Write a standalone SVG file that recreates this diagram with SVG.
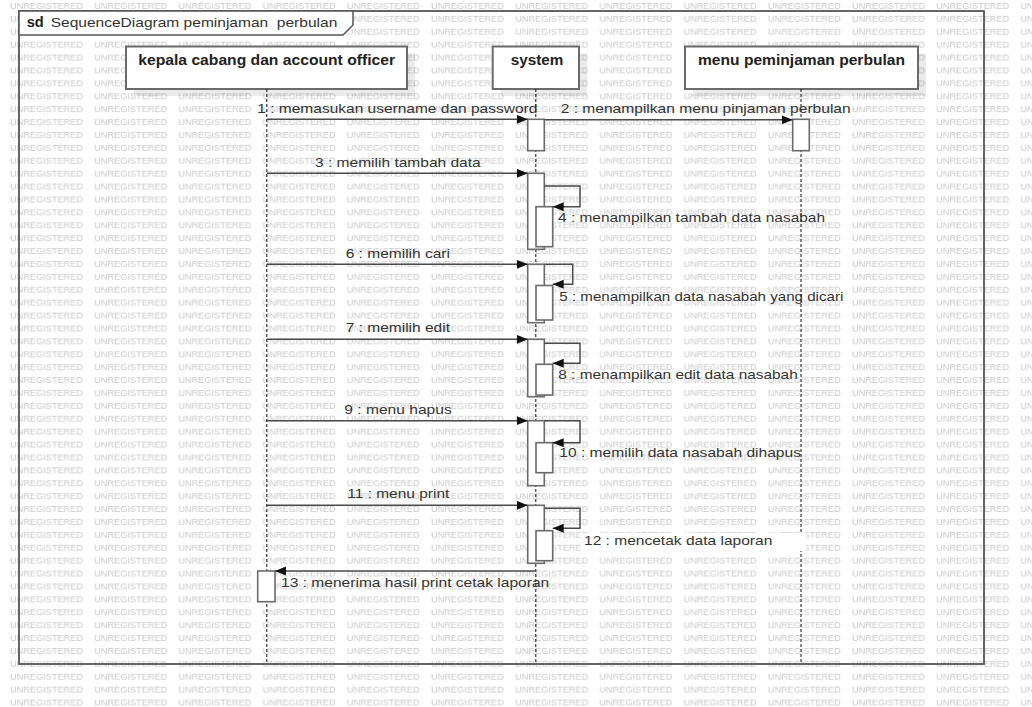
<svg xmlns="http://www.w3.org/2000/svg" width="1032" height="707" viewBox="0 0 1032 707">
<style>
.wm{font-family:"Liberation Sans",Arial,sans-serif;font-size:8.5px;fill:#c8c8c8}
.lbl{font-family:"Liberation Sans",Arial,sans-serif;font-size:13px;fill:#333}
.hdr{font-family:"Liberation Sans",Arial,sans-serif;font-size:14px;font-weight:bold;fill:#222}
.box{fill:#fff;stroke:#6b6b6b;stroke-width:2}
.shadow{fill:#000;fill-opacity:0.08}
.act{fill:#fff;stroke:#6b6b6b;stroke-width:1.6}
.life{stroke:#111;stroke-width:1;stroke-dasharray:3 2;fill:none}
.msg{stroke:#4a4a4a;stroke-width:1.5;fill:none;marker-end:url(#ah)}
.frame{fill:none;stroke:#555;stroke-width:1.8}
</style>
<defs>
<pattern id="wmp" patternUnits="userSpaceOnUse" x="10" y="0" width="84.2" height="12.9">
<text class="wm" x="0" y="9.2" textLength="73" lengthAdjust="spacingAndGlyphs">UNREGISTERED</text>
</pattern>
<marker id="ah" markerUnits="userSpaceOnUse" markerWidth="12" markerHeight="10" refX="11" refY="4.5" orient="auto">
<path d="M0,0 L11,4.5 L0,9 z" fill="#111"/>
</marker>
</defs>
<rect width="1032" height="707" fill="#fff"/>
<rect width="1032" height="707" fill="url(#wmp)"/>

<g id="frame">
<rect class="frame" x="19" y="11" width="965" height="653"/>
<path d="M19,11 L19,35 L343,35 L353,25 L353,11 Z" fill="#fff" stroke="#555" stroke-width="1.5"/>
<text x="26.7" y="27.3" class="hdr" font-size="13" textLength="17" lengthAdjust="spacingAndGlyphs">sd</text>
<text x="50.7" y="27.3" class="lbl" xml:space="preserve" textLength="286.6" lengthAdjust="spacingAndGlyphs">SequenceDiagram peminjaman  perbulan</text>
</g>

<g id="lifeline-kepala">
<rect class="shadow" x="134" y="53.5" width="281" height="42.5"/>
<rect class="box" x="126" y="46.5" width="281" height="42.5"/>
<text class="hdr" x="138.3" y="65" textLength="256.7" lengthAdjust="spacingAndGlyphs">kepala cabang dan account officer</text>
<line class="life" x1="266.8" y1="89" x2="266.8" y2="663"/>
<rect class="act" x="257.7" y="571" width="17.3" height="30.7"/>
</g>

<g id="lifeline-system">
<rect class="shadow" x="500.7" y="53.5" width="86.3" height="42.5"/>
<rect class="box" x="492.7" y="46.5" width="86.3" height="42.5"/>
<text class="hdr" x="510.7" y="65" textLength="52.7" lengthAdjust="spacingAndGlyphs">system</text>
<line class="life" x1="535.8" y1="89" x2="535.8" y2="663"/>
<rect class="act" x="527.7" y="119.3" width="16.6" height="31.4"/>
<rect class="act" x="527.7" y="173.3" width="16.6" height="76"/>
<rect class="act" x="536" y="206.7" width="16.7" height="40"/>
<rect class="act" x="527.7" y="264.3" width="16.6" height="58.4"/>
<rect class="act" x="536" y="285.5" width="16.7" height="34.5"/>
<rect class="act" x="527.7" y="339.3" width="16.6" height="57.4"/>
<rect class="act" x="536" y="364.3" width="16.7" height="30.7"/>
<rect class="act" x="527.7" y="420.7" width="16.6" height="65"/>
<rect class="act" x="536" y="442.7" width="16.7" height="30"/>
<rect class="act" x="527.7" y="505.3" width="16.6" height="58"/>
<rect class="act" x="536" y="530.7" width="16.7" height="30"/>
</g>

<g id="lifeline-menu">
<rect class="shadow" x="693" y="53.5" width="233" height="42.5"/>
<rect class="box" x="685" y="46.5" width="233" height="42.5"/>
<text class="hdr" x="698" y="65" textLength="207" lengthAdjust="spacingAndGlyphs">menu peminjaman perbulan</text>
<line class="life" x1="801" y1="89" x2="801" y2="663"/>
<rect class="act" x="792.7" y="119.3" width="16.6" height="31.4"/>
</g>

<g id="connectors">
<path class="msg" d="M266.8,119.3 H527.7"/>
<path class="msg" d="M544.3,119.8 H792.7"/>
<path class="msg" d="M266.8,173.3 H527.7"/>
<path class="msg" d="M544.3,186 H580 V206.7 H552.7"/>
<path class="msg" d="M266.8,264.3 H527.7"/>
<path class="msg" d="M544.3,264.3 H572.7 V284.3 H552.7"/>
<path class="msg" d="M266.8,339.3 H527.7"/>
<path class="msg" d="M544.3,343.3 H580 V363.3 H552.7"/>
<path class="msg" d="M266.8,420.7 H527.7"/>
<path class="msg" d="M544.3,420.7 H580 V442.7 H552.7"/>
<path class="msg" d="M266.8,505.3 H527.7"/>
<path class="msg" d="M544.3,508.3 H580 V528.3 H552.7"/>
<path class="msg" d="M535.8,571 H275"/>
</g>

<g id="labels">
<text class="lbl" x="257.3" y="113.3" textLength="280" lengthAdjust="spacingAndGlyphs">1 : memasukan username dan password</text>
<text class="lbl" x="560.7" y="113.3" textLength="290" lengthAdjust="spacingAndGlyphs">2 : menampilkan menu pinjaman perbulan</text>
<text class="lbl" x="315" y="166.7" textLength="165.7" lengthAdjust="spacingAndGlyphs">3 : memilih tambah data</text>
<text class="lbl" x="558" y="222" textLength="267" lengthAdjust="spacingAndGlyphs">4 : menampilkan tambah data nasabah</text>
<text class="lbl" x="345.7" y="258.3" textLength="104.3" lengthAdjust="spacingAndGlyphs">6 : memilih cari</text>
<text class="lbl" x="559.3" y="300.7" textLength="284" lengthAdjust="spacingAndGlyphs">5 : menampilkan data nasabah yang dicari</text>
<text class="lbl" x="345.7" y="332.3" textLength="104.3" lengthAdjust="spacingAndGlyphs">7 : memilih edit</text>
<text class="lbl" x="558.3" y="379.3" textLength="239.4" lengthAdjust="spacingAndGlyphs">8 : menampilkan edit data nasabah</text>
<text class="lbl" x="344.3" y="414" textLength="107.4" lengthAdjust="spacingAndGlyphs">9 : menu hapus</text>
<text class="lbl" x="559.3" y="457.3" textLength="241.7" lengthAdjust="spacingAndGlyphs">10 : memilih data nasabah dihapus</text>
<text class="lbl" x="347.3" y="497.7" textLength="102" lengthAdjust="spacingAndGlyphs">11 : menu print</text>
<rect x="581" y="533" width="225" height="18" fill="#fff"/>
<text class="lbl" x="584" y="545" textLength="188.3" lengthAdjust="spacingAndGlyphs">12 : mencetak data laporan</text>
<text class="lbl" x="281" y="586.7" textLength="268.3" lengthAdjust="spacingAndGlyphs">13 : menerima hasil print cetak laporan</text>
</g>
</svg>
